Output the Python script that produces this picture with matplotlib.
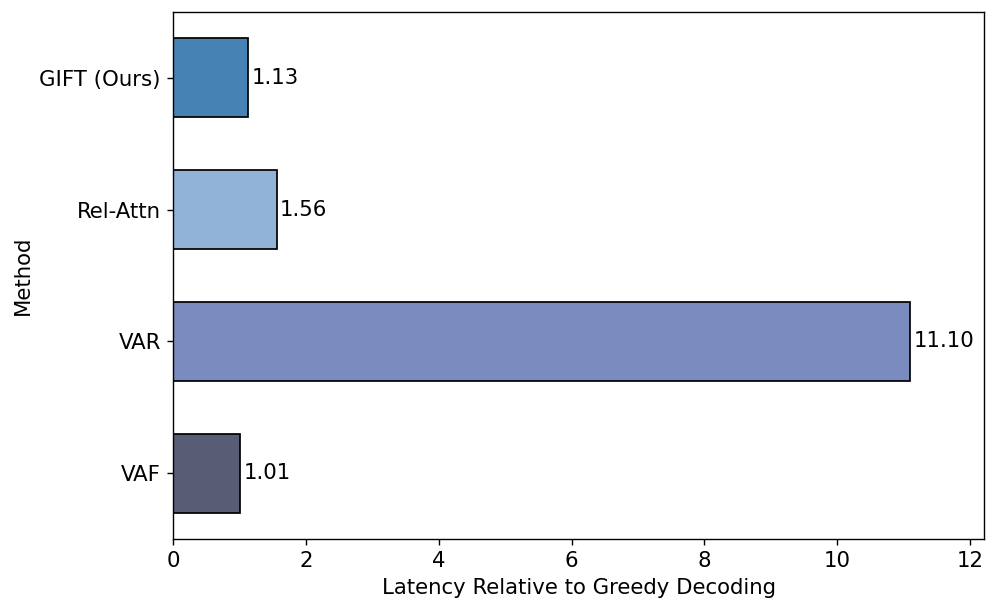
import matplotlib
matplotlib.use("Agg")
import matplotlib.pyplot as plt

methods = ["VAF", "VAR", "Rel-Attn", "GIFT (Ours)"]
latency = [1.01, 11.10, 1.56, 1.13]
colors = ["#585d75", "#7a8bbf", "#92b3d8", "#4682b4"]

s = 1.25
plt.rcParams["axes.linewidth"] = 0.8 * s
plt.rcParams["xtick.major.size"] = 3.5 * s
plt.rcParams["ytick.major.size"] = 3.5 * s
plt.rcParams["xtick.major.width"] = 0.8 * s
plt.rcParams["ytick.major.width"] = 0.8 * s
plt.rcParams["xtick.major.pad"] = 3.5 * s
plt.rcParams["ytick.major.pad"] = 3.5 * s

fs = 15.3
fig = plt.figure(figsize=(9.97, 6.12), dpi=100)
ax = fig.add_axes([173/997, 1-539/612, (984-173)/997, (539-12)/612])
bars = ax.barh(methods, latency, height=0.6, color=colors, edgecolor="black", linewidth=1.0 * s)
for b, v in zip(bars, latency):
    ax.text(b.get_width() + 0.05, b.get_y() + b.get_height()/2, f"{v:.2f}",
            va="center", ha="left", fontsize=fs)
ax.set_xlim(0, 11.10 * 1.1)
ax.set_ylim(-0.5, 3.5)
ax.set_xlabel("Latency Relative to Greedy Decoding", fontsize=fs, labelpad=4 * s)
ax.set_ylabel("Method", fontsize=fs, labelpad=4 * s)
ax.tick_params(labelsize=fs)
fig.savefig("out.png", dpi=100)
